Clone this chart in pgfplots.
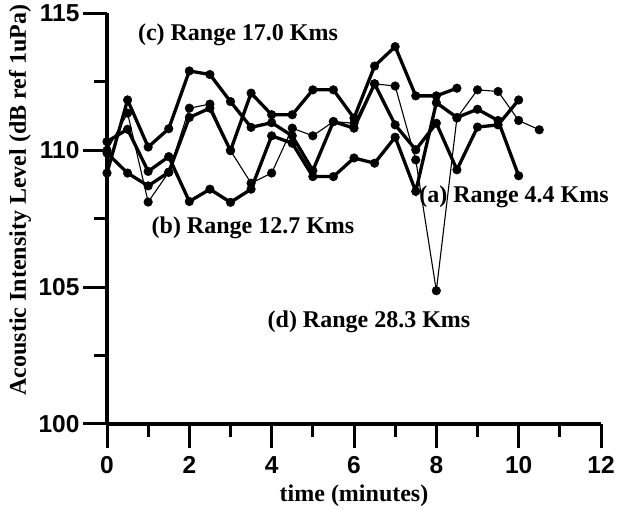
\documentclass[border=0pt]{standalone}
\usepackage{fontspec}
\setmainfont{Liberation Serif}
\newfontfamily\arialb{Liberation Sans}
\usepackage{pgfplots}
\pgfplotsset{compat=1.18}
\begin{document}
\begin{tikzpicture}
\useasboundingbox (-107pt,-86pt) rectangle (516pt,424pt);
\begin{axis}[
  scale only axis, width=494pt, height=410.5pt,
  xmin=0, xmax=12, ymin=100, ymax=115,
  axis x line=bottom, axis y line=left,
  axis line style={line width=3.2pt, -},
  xtick={0,2,...,12}, ytick={100,105,110,115},
  minor x tick num=1, minor y tick num=1,
  tick align=outside,
  major tick length=24pt, minor tick length=13pt,
  tick style={line width=3pt, black},
  tick label style={font=\arialb\bfseries\fontsize{24.5}{24.5}\selectfont},
  xticklabel style={yshift=-5pt},
  /pgf/number format/assume math mode=true,
  clip=false,
  every axis plot/.append style={black, mark=*, mark size=4.3pt, mark options={solid, fill=black, line width=0.5pt}},
]
% series A
\addplot[line width=3.3pt] coordinates {(0,109.17) (0.5,111.84) (1,110.12) (1.5,110.79) (2,112.90) (2.5,112.77) (3,111.78) (3.5,110.84) (4,111.01) (4.5,110.53) (5,109.26) (5.5,111.05) (6,110.81) (6.5,112.43) (7,110.93) (7.5,110.02) (8,110.99) (8.5,109.29) (9,110.85) (9.5,110.93) (10,111.84)};
% series B
\addplot[line width=3.3pt] coordinates {(0,110.32) (0.5,110.77) (1,109.23) (1.5,109.77) (2,108.13) (2.5,108.58) (3,108.10) (3.5,108.58) (4,110.53) (4.5,110.26) (5,109.04) (5.5,109.04) (6,109.72) (6.5,109.53) (7,110.48) (7.5,108.50) (8,111.74) (8.5,111.20) (9,111.50) (9.5,111.09) (10,109.07)};
% series C
\addplot[line width=3.3pt] coordinates {(0,109.90) (0.5,109.17) (1,108.70) (1.5,109.20) (2,111.20) (2.5,111.54) (3,109.99) (3.5,112.09) (4,111.30) (4.5,111.30) (5,112.21) (5.5,112.21) (6,111.18) (6.5,113.08) (7,113.79) (7.5,111.99) (8,111.99) (8.5,112.27)};
% series d (thin)
\addplot[line width=1.1pt] coordinates {(0,110.00) (0.5,111.36) (1,108.11) (1.5,109.20) (2,111.54) (2.5,111.69) (3,109.99) (3.5,108.80) (4,109.17) (4.5,110.81) (5,110.53) (5.5,111.05) (6,110.99) (6.5,112.43) (7,112.35) (7.5,109.65) (8,104.87) (8.5,111.18) (9,112.21) (9.5,112.15) (10,111.09) (10.5,110.75)};
\end{axis}
\begin{scope}[every node/.style={font=\bfseries\fontsize{24}{24}\selectfont, inner sep=0pt}]
\node at (131pt,389pt) {(c) Range 17.0 Kms};
\node at (146pt,196pt) {(b) Range 12.7 Kms};
\node at (407pt,227pt) {(a) Range 4.4 Kms};
\node at (262pt,102pt) {(d) Range 28.3 Kms};
\node at (247pt,-72pt) {time (minutes)};
\node[rotate=90] at (-87pt,224pt) {Acoustic Intensity Level (dB ref 1uPa)};
\end{scope}
\end{tikzpicture}
\end{document}
